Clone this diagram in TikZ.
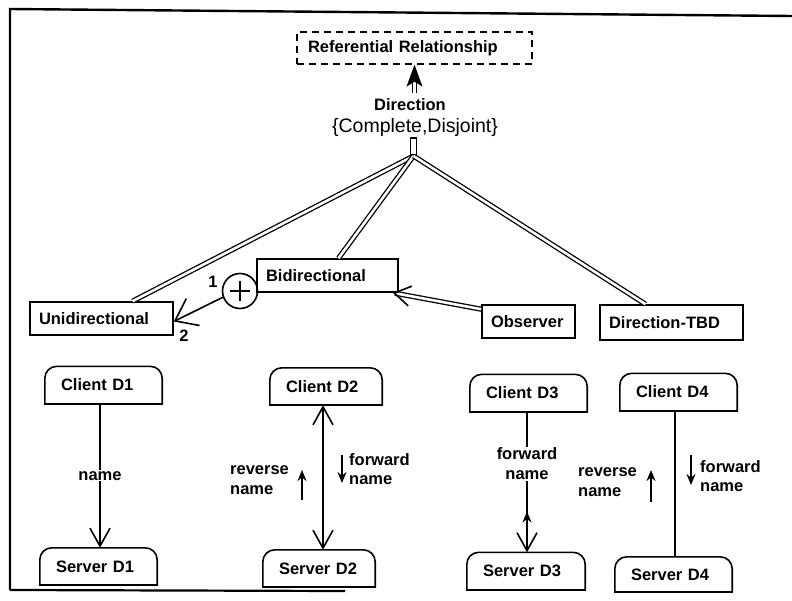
\documentclass[tikz,border=0pt]{standalone}
\usepackage{fontspec}
\setmainfont{Liberation Sans}
\usetikzlibrary{arrows.meta,calc}
\begin{document}
\begin{tikzpicture}[x=1pt,y=-1pt]
\tikzset{
  lbl/.style={font=\fontsize{16.5}{19.5}\selectfont\bfseries, inner sep=1pt},
  cls/.style={lbl, draw, line width=1.6pt, inner ysep=0pt, inner xsep=9pt,
              minimum height=33pt, text width=#1, align=left},
  rtb/.style={lbl, inner ysep=0pt, inner xsep=16pt, minimum height=37pt,
              text width=#1, align=left},
  dbl/.style={double, double distance=2.6pt, line width=1.3pt},
  conn/.style={line width=1.6pt},
  barb/.style={-{Straight Barb[length=18pt,width=20pt]}},
  barbs/.style={{Straight Barb[length=18pt,width=20pt]}-{Straight Barb[length=18pt,width=20pt]}},
  smallarr/.style={line width=1.6pt, -{Stealth[length=11pt,width=9pt]}},
}
\useasboundingbox (0,0) rectangle (792,600);

% frame
\draw[line width=2.4pt] (10,590) -- (10,9) -- (792,16);
\draw[line width=2.2pt] (10,590) -- (345,591);

% generalisation at the top
\node[lbl, draw, line width=1.3pt, dash pattern=on 7pt off 5pt,
      minimum height=32pt, inner ysep=0pt, inner xsep=11pt, text width=213pt,
      align=left] (ref) at (414.5,48) {Referential Relationship};
\node[lbl, inner sep=0pt] (dirl) at (410,105) {Direction};
\node[font=\fontsize{19.5}{23}\selectfont, inner sep=0pt] (cdl) at (415,127) {\{Complete,Disjoint\}};
\coordinate (gen) at (414.5,93);
\coordinate (headbase) at (414.5,80);
\draw[dbl] (gen) -- (headbase);
% solid head of the generalisation arrow
\fill (ref.south) -- ([xshift=-8pt,yshift=-22pt]ref.south) -- ([yshift=-17pt]ref.south)
      -- ([xshift=8pt,yshift=-22pt]ref.south) -- cycle;

\node[draw, line width=1.3pt, minimum width=6pt, minimum height=17pt, inner sep=0pt] (stub) at (413.5,146.5) {};
\coordinate (junc) at (413.5,156);

% subtypes
\node[cls=125pt] (uni) at (101.5,318.5) {Unidirectional};
\node[cls=123pt] (bi)  at (327.5,275.5) {Bidirectional};
\node[cls=75pt]  (obs) at (528.5,321.5) {Observer};
\node[cls=125pt, minimum height=35pt] (tbd) at (671.5,322.5) {Direction-TBD};

\draw[dbl] (junc) -- ([xshift=31pt]uni.north);
\draw[dbl] (junc) -- ([xshift=11pt]bi.north);
\draw[dbl] (junc) -- ([xshift=-26pt]tbd.north);

\draw[dbl, -{Straight Barb[length=16pt,width=20pt,line width=1.6pt]}]
  ([yshift=-5pt]obs.north west) -- ([xshift=-6pt]bi.south east);

% exclusive-or between the two directions
\node[draw, circle, conn, minimum size=35pt, inner sep=0pt] (xor) at (240,291) {};
\draw[conn] ([xshift=-10pt]xor.center) -- ([xshift=10pt]xor.center);
\draw[conn] ([yshift=-10pt]xor.center) -- ([yshift=10pt]xor.center);
\draw[conn, -{Straight Barb[length=20pt,width=30pt]}] (xor.200) -- ([yshift=-3pt]uni.east);
\node[lbl] (one) at (213,282) {1};
\node[lbl] (two) at (184,336) {2};

% client / server examples
\node[rtb=85pt] (c1) at (103.5,385)   {Client D1};
\node[rtb=85pt] (s1) at (98.5,566.5)  {Server D1};
\node[rtb=80pt] (c2) at (326,386.5)   {Client D2};
\node[rtb=80pt] (s2) at (319,568.5)   {Server D2};
\node[rtb=85pt] (c3) at (528.5,393)   {Client D3};
\node[rtb=86pt] (s3) at (526,571)     {Server D3};
\node[rtb=85pt] (c4) at (678.5,392)   {Client D4};
\node[rtb=85pt, minimum height=35pt] (s4) at (673.5,574.5) {Server D4};
\foreach \n in {c1,s1,c2,s2,c3,s3,c4,s4}{
  \draw[conn, rounded corners=12pt] (\n.south west) -- (\n.north west) -- (\n.north east) -- (\n.south east);
  \draw[conn, line cap=rect] (\n.south west) -- (\n.south east);
}

% D1
\draw[conn, barb] ([xshift=-3.5pt]c1.south) -- ([xshift=-3.5pt]c1.south |- s1.north)
  node[midway, fill=white, lbl] (n1) {name};

% D2
\draw[conn, barbs] ([xshift=-3pt]c2.south) -- ([xshift=-3pt]c2.south |- s2.north);
\coordinate (r2a) at (302,500); \coordinate (r2b) at (302,470);
\coordinate (f2a) at (342,455); \coordinate (f2b) at (342,483);
\draw[smallarr] (r2a) -- (r2b);
\draw[smallarr] (f2a) -- (f2b);
\node[lbl, align=left, anchor=west] (r2l) at (229,480) {reverse\\name};
\node[lbl, align=left, anchor=west] (f2l) at (348,469) {forward\\name};

% D3
\draw[conn, barb] ([xshift=-1.5pt]c3.south) -- ([xshift=-1.5pt]c3.south |- s3.north)
  node[pos=0.37, fill=white, lbl, align=center] (f3l) {forward\\name};
\coordinate (u3a) at ($([xshift=-1.5pt]c3.south)!0.81!([xshift=-1.5pt]c3.south |- s3.north)$);
\coordinate (u3b) at ($([xshift=-1.5pt]c3.south)!0.71!([xshift=-1.5pt]c3.south |- s3.north)$);
\draw[smallarr] (u3a) -- (u3b);

% D4
\draw[conn] ([xshift=-3.5pt]c4.south) -- ([xshift=-3.5pt]c4.south |- s4.north);
\coordinate (r4a) at (651,502); \coordinate (r4b) at (651,470);
\coordinate (f4a) at (691,455); \coordinate (f4b) at (691,485);
\draw[smallarr] (r4a) -- (r4b);
\draw[smallarr] (f4a) -- (f4b);
\node[lbl, align=left, anchor=west] (r4l) at (577,482) {reverse\\name};
\node[lbl, align=left, anchor=west] (f4l) at (699,476) {forward\\name};
\end{tikzpicture}
\end{document}
